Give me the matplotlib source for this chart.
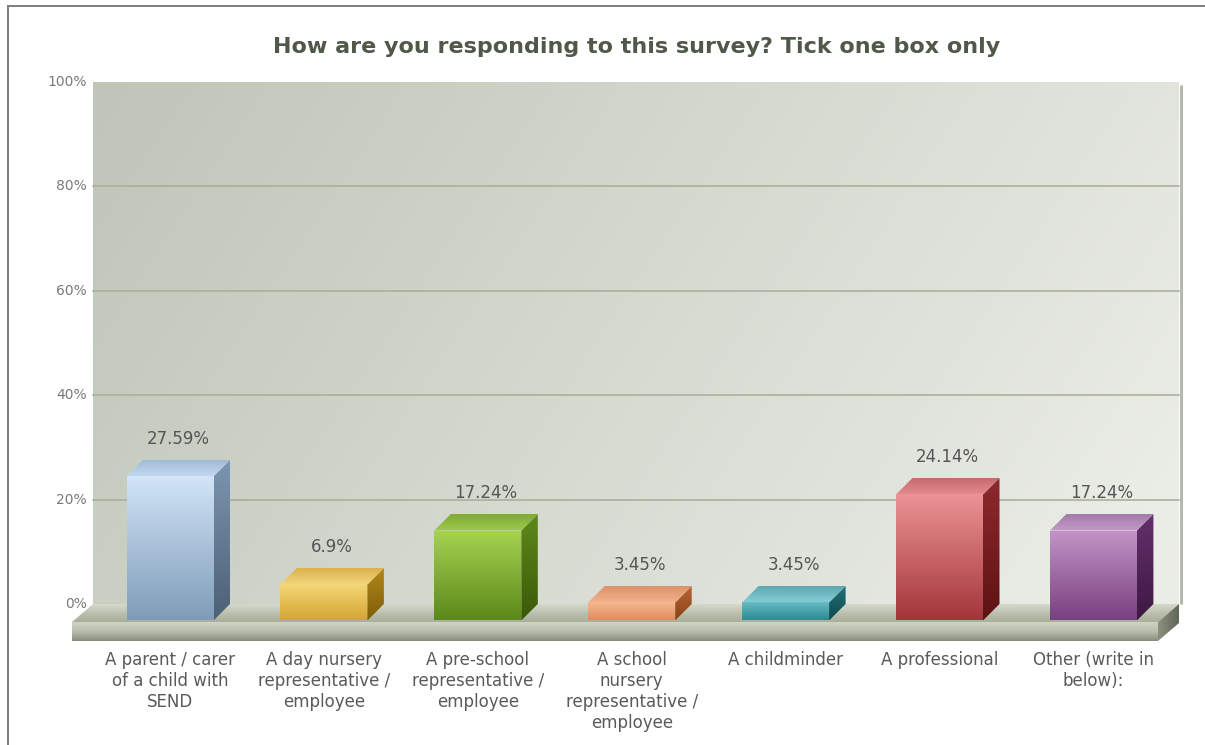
import numpy as np
import matplotlib
matplotlib.use("Agg")
import matplotlib.pyplot as plt
from matplotlib.colors import LinearSegmentedColormap, to_rgb
from matplotlib.patches import Polygon
from matplotlib.lines import Line2D

# ---------------- data ----------------
title = "How are you responding to this survey? Tick one box only"
categories = [
    "A parent / carer\nof a child with\nSEND",
    "A day nursery\nrepresentative /\nemployee",
    "A pre-school\nrepresentative /\nemployee",
    "A school\nnursery\nrepresentative /\nemployee",
    "A childminder",
    "A professional",
    "Other (write in\nbelow):",
]
values = [27.59, 6.9, 17.24, 3.45, 3.45, 24.14, 17.24]
value_labels = ["27.59%", "6.9%", "17.24%", "3.45%", "3.45%", "24.14%", "17.24%"]
yticks = [0, 20, 40, 60, 80, 100]
ytick_labels = ["0%", "20%", "40%", "60%", "80%", "100%"]

# bar colours: (front top, front bottom, side top, side bottom, top face back, top face front)
bar_colors = [
    ("#d3e5f8", "#7e9cb8", "#7d96b0", "#4c6076", "#9fb9d2", "#c2d8ef"),
    ("#f6d878", "#d4a534", "#b58a1c", "#7c5c08", "#d9b14a", "#f3d27a"),
    ("#a8d352", "#5b8818", "#5f8a1c", "#3a5808", "#7faa34", "#9ecb4c"),
    ("#f8bb94", "#e08c5c", "#b96634", "#8a4218", "#d99068", "#f3b08a"),
    ("#6cc0c8", "#2d8890", "#237078", "#0e4a50", "#5aa6ae", "#84cdd4"),
    ("#ec9496", "#a3353a", "#8e2a2e", "#5e1214", "#c4686c", "#e48a8e"),
    ("#c394c7", "#79407f", "#64306a", "#3e1844", "#a27aa8", "#c49ac8"),
]

# ---------------- geometry (pixel-based calibration) ----------------
W, H = 1205, 745
px_x = 153.9          # pixels per category unit
px_y = 5.22           # pixels per percent
x0_px = 170.0         # pixel x of category 0 front centre
y0_px = 604.0         # pixel y of 0% on back wall

xlim = (-x0_px / px_x, (W - x0_px) / px_x)
ylim = (-(H - y0_px) / px_y, y0_px / px_y)

def PX(p):            # pixel x -> data x
    return (p - x0_px) / px_x

def PY(p):            # pixel y -> data y
    return (y0_px - p) / px_y

bar_w = 87 / px_x
dx = 16.5 / px_x
dy = 16.5 / px_y
wall_l, wall_r = PX(93), PX(1179)
floor_dx = 21 / px_x
floor_dy = 18 / px_y
floor_th = 19 / px_y

fig = plt.figure(figsize=(W / 100, H / 100), dpi=100)
fig.patch.set_facecolor("white")
ax = fig.add_axes([0, 0, 1, 1])
ax.set_axis_off()


def grad_fill(verts, colors, vertical=True, z=1):
    xs = [v[0] for v in verts]
    ys = [v[1] for v in verts]
    cmap = LinearSegmentedColormap.from_list("g", colors)
    if vertical:
        arr = np.linspace(0, 1, 256).reshape(-1, 1)
    else:
        arr = np.linspace(0, 1, 256).reshape(1, -1)
    im = ax.imshow(arr, cmap=cmap, extent=(min(xs), max(xs), min(ys), max(ys)),
                   origin="upper", aspect="auto", zorder=z,
                   interpolation="bilinear")
    poly = Polygon(verts, closed=True, transform=ax.transData,
                   facecolor="none", edgecolor="none")
    ax.add_patch(poly)
    im.set_clip_path(poly)
    return im


# ---------------- back wall ----------------
ny, nx = 64, 256
xx = np.linspace(0, 1, nx)[None, :]
yy = np.linspace(0, 1, ny)[:, None]
t = np.clip(0.8 * xx + 0.25 * yy, 0, 1)
c_a = np.array(to_rgb("#bfc5b8"))
c_b = np.array(to_rgb("#ebede7"))
wall_img = c_a[None, None, :] * (1 - t[..., None]) + c_b[None, None, :] * t[..., None]
ax.imshow(wall_img, extent=(wall_l, wall_r, 0, 100), origin="upper",
          aspect="auto", zorder=0, interpolation="bilinear")
# right edge shadow
ax.plot([wall_r + 1.5 / px_x] * 2, [0, 99.5], color="#b5b8ae", lw=2.2, zorder=0.5,
        solid_capstyle="butt")

# gridlines
for v in yticks[1:-1]:
    ax.plot([wall_l, wall_r], [v, v], color="#a6ad96", lw=1.1, zorder=0.6)

# y tick labels
for v, lab in zip(yticks, ytick_labels):
    ax.text(PX(87), v, lab, ha="right", va="center", fontsize=10,
            color="#7a7a7a", zorder=5)

# ---------------- floor ----------------
fl_back_l, fl_back_r = wall_l, wall_r
fl_front_l, fl_front_r = wall_l - floor_dx, wall_r - floor_dx
top_face = [(fl_back_l, 0), (fl_back_r, 0), (fl_front_r, -floor_dy), (fl_front_l, -floor_dy)]
grad_fill(top_face, ["#d6d9cd", "#bcc1af", "#a9af9b"], vertical=True, z=1)
front_face = [(fl_front_l, -floor_dy), (fl_front_r, -floor_dy),
              (fl_front_r, -floor_dy - floor_th), (fl_front_l, -floor_dy - floor_th)]
grad_fill(front_face, ["#d0d4c6", "#b8bdac", "#868d7c"], vertical=True, z=1)
side_face = [(fl_front_r, -floor_dy), (fl_back_r, 0), (fl_back_r, -floor_th),
             (fl_front_r, -floor_dy - floor_th)]
grad_fill(side_face, ["#8b927f", "#5f6656"], vertical=False, z=1)

# ---------------- bars ----------------
for i, (v, cols) in enumerate(zip(values, bar_colors)):
    c = i
    l, r = c - bar_w / 2, c + bar_w / 2
    ftop, fbot, stop, sbot, tback, tfront = cols
    front = [(l, -dy), (r, -dy), (r, v - dy), (l, v - dy)]
    grad_fill(front, [ftop, fbot], vertical=True, z=3)
    side = [(r, -dy), (r + dx, 0), (r + dx, v), (r, v - dy)]
    grad_fill(side, [stop, sbot], vertical=True, z=3)
    top = [(l, v - dy), (r, v - dy), (r + dx, v), (l + dx, v)]
    grad_fill(top, [tback, tfront], vertical=True, z=3)
    ax.text(c + dx / 2, v + 4.1, value_labels[i], ha="center", va="center",
            fontsize=12, color="#555555", zorder=5)
    ax.text(c, PY(651), categories[i], ha="center", va="top", fontsize=12,
            color="#5a5a5a", linespacing=1.22, zorder=5)

# ---------------- title & frame ----------------
fig.text(637 / W, 1 - 47 / H, title, ha="center", va="center", fontsize=16,
         fontweight="bold", color="#4f5849")
fig.add_artist(Line2D([8 / W, 8 / W], [0, 1 - 6 / H], color="#7d7d7d", lw=1.4,
                      transform=fig.transFigure))
fig.add_artist(Line2D([8 / W, 1], [1 - 6 / H, 1 - 6 / H], color="#7d7d7d", lw=1.4,
                      transform=fig.transFigure))

ax.set_xlim(*xlim)
ax.set_ylim(*ylim)
fig.savefig("out.png", dpi=100, facecolor="white")
